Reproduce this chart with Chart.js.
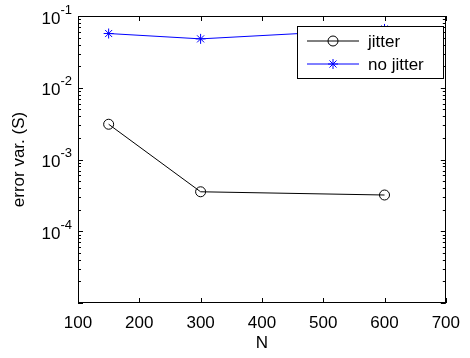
<!DOCTYPE html>
<html>
<head>
<meta charset="utf-8">
<script src="https://cdn.jsdelivr.net/npm/chart.js@4.4.0/dist/chart.umd.min.js"></script>
<style>
  html, body { margin: 0; padding: 0; background: #fff; }
  #wrap { width: 470px; height: 358px; }
</style>
</head>
<body>
<div id="wrap"><canvas id="errChart" width="470" height="358"></canvas></div>
<script>
// values
const nValues = [150, 300, 600];
const jitterVar = [3.1e-3, 3.55e-4, 3.2e-4];
const noJitterVar = [0.057, 0.048, 0.066];
const xTicks = [100, 200, 300, 400, 500, 600, 700];
const yDecades = [-4, -3, -2, -1];
const seriesNames = ['jitter', 'no jitter'];

const FONT = '"Liberation Sans", Arial, Helvetica, sans-serif';
const SIZE = 17;

const toPoints = (xs, ys) => xs.map((v, i) => ({x: v, y: ys[i]}));

// MATLAB style box, inward ticks, 10^n labels and the boxed legend
const matlabAxes = {
  id: 'matlabAxes',
  afterDraw(chart) {
    const {ctx, chartArea: a, scales: {x, y}} = chart;
    ctx.save();
    ctx.strokeStyle = '#000';
    ctx.lineWidth = 1;
    ctx.strokeRect(Math.round(a.left) + 0.5, Math.round(a.top) + 0.5,
      Math.round(a.right - a.left) - 1, Math.round(a.bottom - a.top) - 1);

    ctx.beginPath();
    xTicks.forEach(v => {
      const px = Math.round(x.getPixelForValue(v)) + 0.5;
      ctx.moveTo(px, a.bottom); ctx.lineTo(px, a.bottom - 5);
      ctx.moveTo(px, a.top); ctx.lineTo(px, a.top + 5);
    });
    for (let d = -5; d <= -2; d++) {
      for (let m = 1; m <= 9; m++) {
        const v = m * Math.pow(10, d);
        if (v < y.min || v > y.max) continue;
        const py = Math.round(y.getPixelForValue(v)) + 0.5;
        const len = m === 1 ? 5 : 3;
        ctx.moveTo(a.left, py); ctx.lineTo(a.left + len, py);
        ctx.moveTo(a.right, py); ctx.lineTo(a.right - len, py);
      }
    }
    ctx.stroke();

    // y tick labels with superscript exponents
    ctx.fillStyle = '#000';
    ctx.textBaseline = 'middle';
    yDecades.forEach(d => {
      const py = y.getPixelForValue(Math.pow(10, d));
      const sup = String(d);
      ctx.font = '13px ' + FONT;
      const sw = ctx.measureText(sup).width;
      ctx.textAlign = 'left';
      const right = a.left - 6;
      ctx.fillText(sup, right - sw, py - 6);
      ctx.font = SIZE + 'px ' + FONT;
      ctx.textAlign = 'right';
      ctx.fillText('10', right - sw, py + 3);
    });

    // legend
    const lx = 297, ly = 26, lw = 146, lh = 52;
    ctx.fillStyle = '#fff';
    ctx.fillRect(lx, ly, lw, lh);
    ctx.strokeRect(lx + 0.5, ly + 0.5, lw, lh);
    chart.data.datasets.forEach((ds, i) => {
      const ry = ly + 15 + i * 23;
      ctx.strokeStyle = ds.borderColor;
      ctx.lineWidth = 1;
      ctx.beginPath();
      ctx.moveTo(lx + 10, ry); ctx.lineTo(lx + 62, ry);
      ctx.stroke();
      ctx.fillStyle = 'rgba(0,0,0,0)';
      Chart.helpers.drawPoint(ctx, {pointStyle: ds.pointStyle, radius: ds.pointRadius,
        rotation: 0, borderWidth: 1}, lx + 36, ry);
      ctx.fillStyle = '#000';
      ctx.font = SIZE + 'px ' + FONT;
      ctx.textAlign = 'left';
      ctx.textBaseline = 'middle';
      ctx.fillText(ds.label, lx + 71, ry + 1);
    });
    ctx.restore();
  }
};

new Chart(document.getElementById('errChart').getContext('2d'), {
  type: 'line',
  data: {
    datasets: [{
      label: seriesNames[0],
      data: toPoints(nValues, jitterVar),
      borderColor: '#000000',
      backgroundColor: 'rgba(0,0,0,0)',
      borderWidth: 1,
      pointStyle: 'circle',
      pointRadius: 5,
      pointBorderWidth: 1,
      tension: 0
    }, {
      label: seriesNames[1],
      data: toPoints(nValues, noJitterVar),
      borderColor: '#0000ff',
      backgroundColor: 'rgba(0,0,0,0)',
      borderWidth: 1,
      pointStyle: 'star',
      pointRadius: 5,
      pointBorderWidth: 1,
      tension: 0
    }]
  },
  options: {
    responsive: false,
    animation: false,
    devicePixelRatio: 1,
    layout: {padding: {top: 16, right: 17, left: 0, bottom: 0}, autoPadding: false},
    plugins: {legend: {display: false}, tooltip: {enabled: false}},
    scales: {
      x: {
        type: 'linear',
        min: 100,
        max: 700,
        afterFit: s => { s.height = 55; },
        afterBuildTicks: s => { s.ticks = xTicks.map(v => ({value: v})); },
        grid: {display: false, drawTicks: false},
        border: {display: false},
        ticks: {color: '#000', font: {family: FONT, size: SIZE}, padding: 10, maxRotation: 0},
        title: {display: true, text: 'N', color: '#000',
          font: {family: FONT, size: SIZE}, padding: {top: 0, bottom: 4}}
      },
      y: {
        type: 'logarithmic',
        min: 1e-5,
        max: 1e-1,
        afterFit: s => { s.width = 78; },
        grid: {display: false, drawTicks: false},
        border: {display: false},
        ticks: {display: false},
        title: {display: true, text: 'error var. (S)', color: '#000',
          font: {family: FONT, size: SIZE}, padding: {top: 9, bottom: 0}}
      }
    }
  },
  plugins: [matlabAxes]
});
</script>
</body>
</html>
